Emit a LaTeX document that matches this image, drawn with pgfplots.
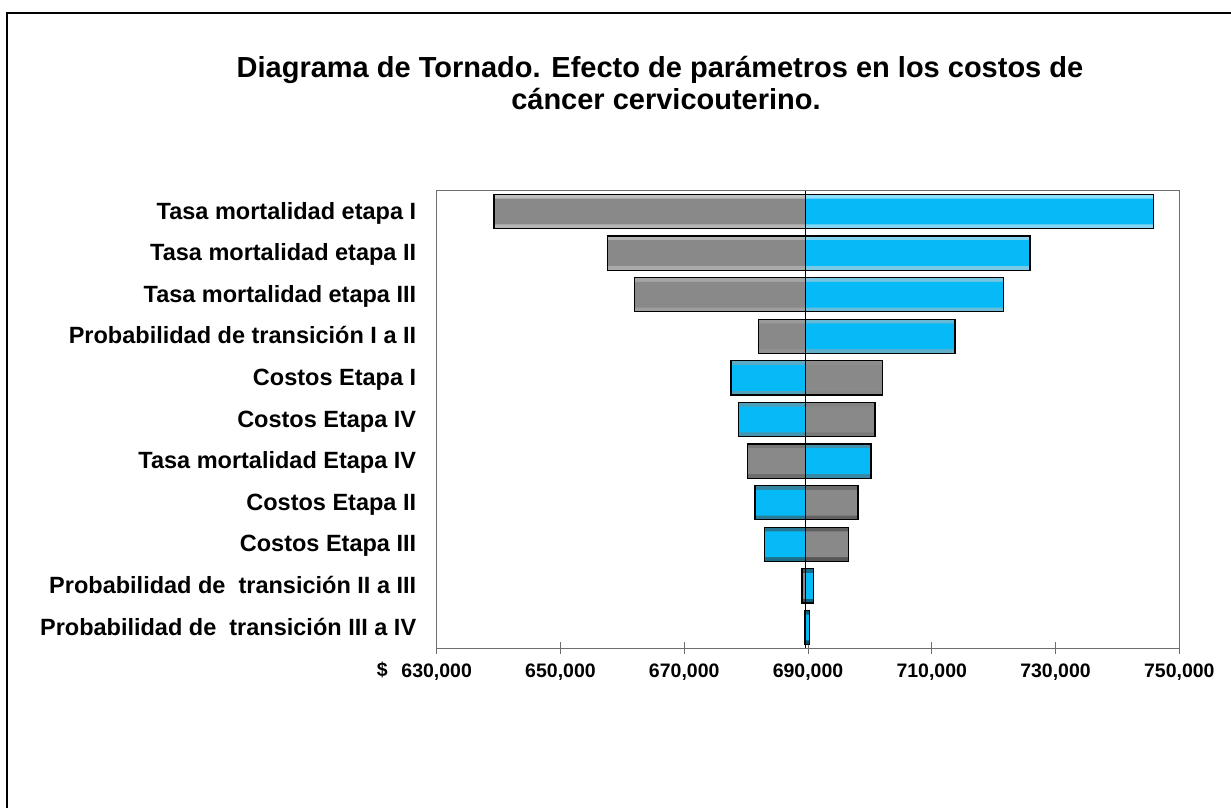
\documentclass[border=0pt]{standalone}
\usepackage{pgfplots}
\pgfplotsset{compat=1.18}
\usepackage{pgfplotstable}
\usepackage{fontspec}
\setmainfont{Liberation Sans}
\definecolor{barblue}{RGB}{6,186,247}
\definecolor{bargray}{RGB}{137,137,137}
\definecolor{axgray}{RGB}{110,110,110}

% base case = 689,630
\pgfplotstableread{
row gray blue
1 639260 745803
2 657569 725877
3 661932 721563
4 682035 713757
5 702009 677559
6 700829 678739
7 680193 700183
8 698082 681437
9 696515 682940
10 689032 690859
11 689404 690277
}\data

\begin{document}
\begin{tikzpicture}[x=1pt,y=1pt]
\path[use as bounding box] (0,0) rectangle (1231,808);
\draw[line width=2pt] (7,0) -- (7,795) -- (1231,795);
\node[anchor=base, inner sep=0pt, font=\fontsize{29}{34}\selectfont\bfseries] at (660,730.7) {Diagrama de Tornado. Efecto de parámetros en los costos de};
\node[anchor=base, inner sep=0pt, font=\fontsize{29}{34}\selectfont\bfseries] at (666,698.5) {cáncer cervicouterino.};
\node[anchor=base east, inner sep=0pt, font=\fontsize{19.5}{22}\selectfont\bfseries] at (388,131.3) {\$};
\begin{axis}[
  at={(436.7pt,159.7pt)}, anchor=south west,
  scale only axis, width=742.6pt, height=457.6pt,
  xmin=-59630, xmax=60370, ymin=0.5, ymax=11.5,
  y dir=reverse,
  scaled x ticks=false,
  axis line style={draw=axgray, line width=1.2pt},
  ytick={1,2,3,4,5,6,7,8,9,10,11},
  yticklabels={Tasa mortalidad etapa I, Tasa mortalidad etapa II, Tasa mortalidad etapa III, Probabilidad de transición I a II, Costos Etapa I, Costos Etapa IV, Tasa mortalidad Etapa IV, Costos Etapa II, Costos Etapa III, Probabilidad de\ \ transición II a III, Probabilidad de\ \ transición III a IV},
  ytick style={draw=none},
  yticklabel style={font=\fontsize{23.5}{26}\selectfont\bfseries, anchor=base east, xshift=-17pt, yshift=-7.5pt},
  xtick={-59630,-39630,-19630,370,20370,40370,60370},
  xticklabels={{630,000},{650,000},{670,000},{690,000},{710,000},{730,000},{750,000}},
  xtick align=center, major tick length=12pt,
  xtick pos=bottom,
  xtick style={draw=axgray, line width=1pt},
  xticklabel style={font=\fontsize{19.5}{22}\selectfont\bfseries, yshift=-6pt},
]
% gray series: bevel outer, flat inner, outline
\addplot[xbar, bar shift=0pt, bar width=0.82, draw=none, top color=bargray!55!white, bottom color=bargray!45!black]
  table[x expr=\thisrow{gray}-689630, y=row]{\data};
\addplot[xbar, bar shift=0pt, bar width=0.62, draw=none, fill=bargray]
  table[x expr=\thisrow{gray}-689630, y=row]{\data};
\addplot[xbar, bar shift=0pt, bar width=0.82, fill=none, draw=black, line width=1.3pt]
  table[x expr=\thisrow{gray}-689630, y=row]{\data};
% blue series
\addplot[xbar, bar shift=0pt, bar width=0.82, draw=none, top color=barblue!45!white, bottom color=barblue!45!black]
  table[x expr=\thisrow{blue}-689630, y=row]{\data};
\addplot[xbar, bar shift=0pt, bar width=0.62, draw=none, fill=barblue]
  table[x expr=\thisrow{blue}-689630, y=row]{\data};
\addplot[xbar, bar shift=0pt, bar width=0.82, fill=none, draw=black, line width=1.3pt]
  table[x expr=\thisrow{blue}-689630, y=row]{\data};
% base case line
\addplot[black, line width=1.3pt] coordinates {(0,0.5) (0,11.5)};
\end{axis}
\end{tikzpicture}
\end{document}
